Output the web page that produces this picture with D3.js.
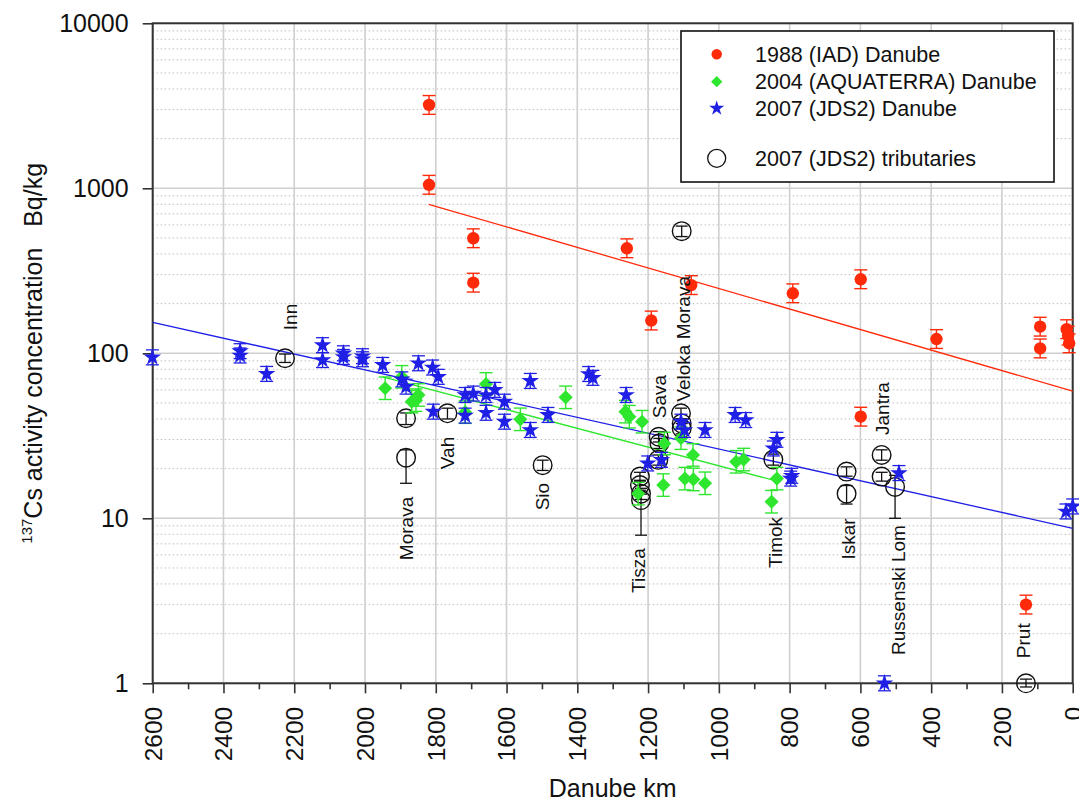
<!DOCTYPE html>
<html><head><meta charset="utf-8">
<script src="https://cdn.jsdelivr.net/npm/d3@7"></script>
<style>
body{margin:0;background:#fff;}
text{font-family:"Liberation Sans",Arial,Helvetica,sans-serif;fill:#111;}
</style></head>
<body><svg id="chart" width="1079" height="805"></svg>
<script>
// ---------- data ----------
const xTicks = [2600,2400,2200,2000,1800,1600,1400,1200,1000,800,600,400,200,0];
const yTicks = [1,10,100,1000,10000];
const yTickLabels = ["1","10","100","1000","10000"];

const red1988Km  = [1819,1819,1694,1694,1260,1191,1078,791,599,599,385,92,92,17,13,10,132];
const red1988Val = [3200,1050,498,268,433,158,259,231,281,41.3,122,145,107,140,128,115,3.0];

const green2004Km  = [1943,1896,1868,1849,1856,1717,1658,1561,1433,1264,1253,1217,1154,1107,1073,951,930,836,1157,1096,1072,1039,851,1228];
const green2004Val = [61.4,72,50.9,55.9,52,44,65.2,39.8,54.1,44.3,41.3,38.5,28.4,30.6,24.2,22.0,22.7,17.4,15.9,17.4,17.2,16.3,12.6,14.1];

const blue2007Km  = [2601,2353,2353,2278,2120,2120,2061,2061,2007,2007,1950,1896,1884,1849,1809,1793,1807,1717,1717,1694,1658,1658,1633,1606,1606,1533,1533,1483,1368,1356,1262,1201,1162,1107,1097,1039,954,924,836,846,794,797,491,532,19,0];
const blue2007Val = [94.5,103,97,75,112,91,100,95,96,92,85,69.5,62.8,87,82,72,44.3,55.9,41.9,57,55.9,43.6,60,50.9,38.5,68,34.3,42.3,74.9,71,55.9,21.5,22.6,38.5,34.3,34.3,42.3,39.4,29.9,26.5,18.1,17.4,18.8,1,11,11.8];

const tribKm  = [2226,1884,1884,1767,1498,1223,1223,1220,1220,1170,1168,1171,1105,1107,1105,1105,846,639,639,540,540,502,132];
const tribVal = [93.3,40.4,23.3,43.3,21,17.9,15.9,14.1,12.9,31.2,28.5,22.6,550,43.3,37.6,35,22.7,19.2,14.1,24.2,17.9,15.5,1.0];
const tribLow = [88,37,16.3,40,19.5,16.8,14.8,13,7.9,29,26.5,21,510,40,35,32.5,21,18,12.2,22.5,16.8,10,0.95];
const tribHigh= [99,43.5,26,46.5,22.5,19,17,15.2,14,33.5,30.5,24.2,590,46.5,40,37.5,24.5,20.5,15.8,26,19,18.2,1.06];

const labelNames = ["Inn","Morava","Vah","Sio","Tisza","Sava","Veloka Morava","Timok","Iskar","Jantra","Russenski Lom","Prut"];
const labelKm    = [2212,1883,1767,1498,1228,1170,1102,841,634,538,493,140];
const labelVal   = [138,13.5,31.2,16.4,6.58,40.4,50.9,10.2,10,32,9.1,1.42];
const labelSide  = ["above","below","below","below","below","above","above","below","below","above","below","above"];

// regression lines (endpoints)
const redFitKm = [1820,0],   redFitVal = [800,59];
const greenFitKm = [1950,836], greenFitVal = [72,16.8];
const blueFitKm = [2600,0],  blueFitVal = [154,8.7];

const legendNames = ["1988 (IAD) Danube","2004 (AQUATERRA) Danube","2007 (JDS2) Danube","2007 (JDS2) tributaries"];

// ---------- layout ----------
const svg = d3.select("#chart");
const L = 152.7, R = 1072.7, T = 23.3, B = 683.3;
const x = d3.scaleLinear().domain([2600,0]).range([L,R]);
const y = d3.scaleLog().domain([1,10000]).range([B,T]);

const RED="#ff2a0a", GREEN="#2ee62e", BLUE="#1f1fe6";

// grid
const g = svg.append("g");
const minorVals=[];
for(let d=1; d<10000; d*=10) for(let k=2;k<10;k++) minorVals.push(d*k);
g.selectAll(".minor").data(minorVals).enter().append("line")
  .attr("x1",L).attr("x2",R).attr("y1",d=>y(d)).attr("y2",d=>y(d))
  .attr("stroke","#bdbdbd").attr("stroke-width",1).attr("stroke-dasharray","1.5,2.5");
g.selectAll(".vmaj").data(xTicks).enter().append("line")
  .attr("x1",d=>x(d)).attr("x2",d=>x(d)).attr("y1",T).attr("y2",B)
  .attr("stroke","#cfcfcf").attr("stroke-width",1.6);
g.selectAll(".hmaj").data(yTicks).enter().append("line")
  .attr("x1",L).attr("x2",R).attr("y1",d=>y(d)).attr("y2",d=>y(d))
  .attr("stroke","#cfcfcf").attr("stroke-width",1.6);

// axes
const xAxis = d3.axisBottom(x).tickValues(d3.range(0,2601,100)).tickSize(0).tickFormat("");
const xa = svg.append("g").attr("transform",`translate(0,${B})`).call(xAxis);
xa.select(".domain").remove();
xa.selectAll(".tick line").attr("y2",d=> d%200===0?10:6).attr("stroke","#333").attr("stroke-width",1.6);
svg.selectAll(".xlab").data(xTicks).enter().append("text")
  .attr("transform",d=>`translate(${x(d)},${B+23.5}) rotate(-90)`)
  .attr("text-anchor","end").attr("dy","0.36em").attr("font-size",24.5).text(d=>d);

const yAxis = d3.axisLeft(y).tickValues(yTicks).tickSize(10).tickFormat("");
const ya = svg.append("g").attr("transform",`translate(${L},0)`).call(yAxis);
ya.select(".domain").remove();
ya.selectAll(".tick line").attr("stroke","#333").attr("stroke-width",1.6);
svg.selectAll(".ylab").data(yTicks).enter().append("text")
  .attr("x",L-24).attr("y",d=>y(d)).attr("dy","0.36em").attr("text-anchor","end")
  .attr("font-size",25).text((d,i)=>yTickLabels[i]);

// frame
svg.append("rect").attr("x",L).attr("y",T).attr("width",R-L).attr("height",B-T)
  .attr("fill","none").attr("stroke","#333").attr("stroke-width",2);

// regression lines
function fit(kms,vals,color){
  svg.append("line").attr("x1",x(kms[0])).attr("y1",y(vals[0])).attr("x2",x(kms[1])).attr("y2",y(vals[1]))
    .attr("stroke",color).attr("stroke-width",1.3);
}
fit(redFitKm,redFitVal,RED);
fit(greenFitKm,greenFitVal,GREEN);
fit(blueFitKm,blueFitVal,BLUE);

// error bars
function errbars(kms,lo,hi,color,cap,w){
  const gg=svg.append("g").attr("stroke",color).attr("stroke-width",w||1.3).attr("fill","none");
  kms.forEach((k,i)=>{
    const cx=x(k), y1=y(lo[i]), y2=y(hi[i]);
    gg.append("line").attr("x1",cx).attr("x2",cx).attr("y1",y1).attr("y2",y2);
    gg.append("line").attr("x1",cx-cap).attr("x2",cx+cap).attr("y1",y1).attr("y2",y1);
    gg.append("line").attr("x1",cx-cap).attr("x2",cx+cap).attr("y1",y2).attr("y2",y2);
  });
}
const rel=(vals,f)=>[vals.map(v=>v/(1+f)),vals.map(v=>v*(1+f))];

// tributaries (drawn first so the filled marks overlay)
errbars(tribKm,tribLow,tribHigh,"#111",6,1.3);
svg.selectAll(".trib").data(tribKm).enter().append("circle")
  .attr("cx",d=>x(d)).attr("cy",(d,i)=>y(tribVal[i])).attr("r",9.3)
  .attr("fill","none").attr("stroke","#111").attr("stroke-width",1.4);

// red
let [rl,rh]=rel(red1988Val,0.14);
errbars(red1988Km,rl,rh,RED,6.5,1.4);
svg.selectAll(".red").data(red1988Km).enter().append("circle")
  .attr("cx",d=>x(d)).attr("cy",(d,i)=>y(red1988Val[i])).attr("r",6.2).attr("fill",RED);

// green
let [gl,gh]=rel(green2004Val,0.17);
errbars(green2004Km,gl,gh,GREEN,6.5,1.4);
const sq=d3.symbol().type(d3.symbolSquare).size(100);
svg.selectAll(".grn").data(green2004Km).enter().append("path")
  .attr("d",sq).attr("fill",GREEN)
  .attr("transform",(d,i)=>`translate(${x(d)},${y(green2004Val[i])}) rotate(45)`);

// blue
let [bl,bh]=rel(blue2007Val,0.11);
errbars(blue2007Km,bl,bh,BLUE,6.5,1.3);
const st=d3.symbol().type(d3.symbolStar).size(95);
svg.selectAll(".blu").data(blue2007Km).enter().append("path")
  .attr("d",st).attr("fill",BLUE)
  .attr("transform",(d,i)=>`translate(${x(d)},${y(blue2007Val[i])})`);

// tributary labels
svg.selectAll(".tl").data(labelNames).enter().append("text")
  .attr("transform",(d,i)=>`translate(${x(labelKm[i])},${y(labelVal[i])}) rotate(-90)`)
  .attr("text-anchor",(d,i)=>labelSide[i]==="above"?"start":"end")
  .attr("dy","0.36em").attr("font-size",19).text(d=>d);

// legend
const lg=svg.append("g");
lg.append("rect").attr("x",681).attr("y",31).attr("width",373).attr("height",151)
  .attr("fill","#fff").attr("stroke","#111").attr("stroke-width",1.6);
const ly=[54.3,81.7,108.3,158.3], lx=716.7;
lg.append("circle").attr("cx",lx).attr("cy",ly[0]).attr("r",5.2).attr("fill",RED);
lg.append("path").attr("d",d3.symbol().type(d3.symbolSquare).size(64)).attr("fill",GREEN)
  .attr("transform",`translate(${lx},${ly[1]}) rotate(45)`);
lg.append("path").attr("d",d3.symbol().type(d3.symbolStar).size(70)).attr("fill",BLUE)
  .attr("transform",`translate(${lx},${ly[2]})`);
lg.append("circle").attr("cx",lx).attr("cy",ly[3]).attr("r",9).attr("fill","none").attr("stroke","#111").attr("stroke-width",1.3);
lg.selectAll(".lt").data(legendNames).enter().append("text")
  .attr("x",755).attr("y",(d,i)=>ly[i]).attr("dy","0.36em").attr("font-size",21.5).text(d=>d);

// axis titles
svg.append("text").attr("x",(L+R)/2).attr("y",797).attr("text-anchor","middle")
  .attr("font-size",25).text("Danube km");
const yt=svg.append("text").attr("transform",`translate(42,${(T+B)/2}) rotate(-90)`)
  .attr("text-anchor","middle").attr("font-size",25);
yt.append("tspan").attr("font-size",15).attr("dy","-0.7em").text("137");
yt.append("tspan").attr("dy","0.42em").text("Cs activity concentration\u00a0\u00a0\u00a0Bq/kg");
</script></body></html>
